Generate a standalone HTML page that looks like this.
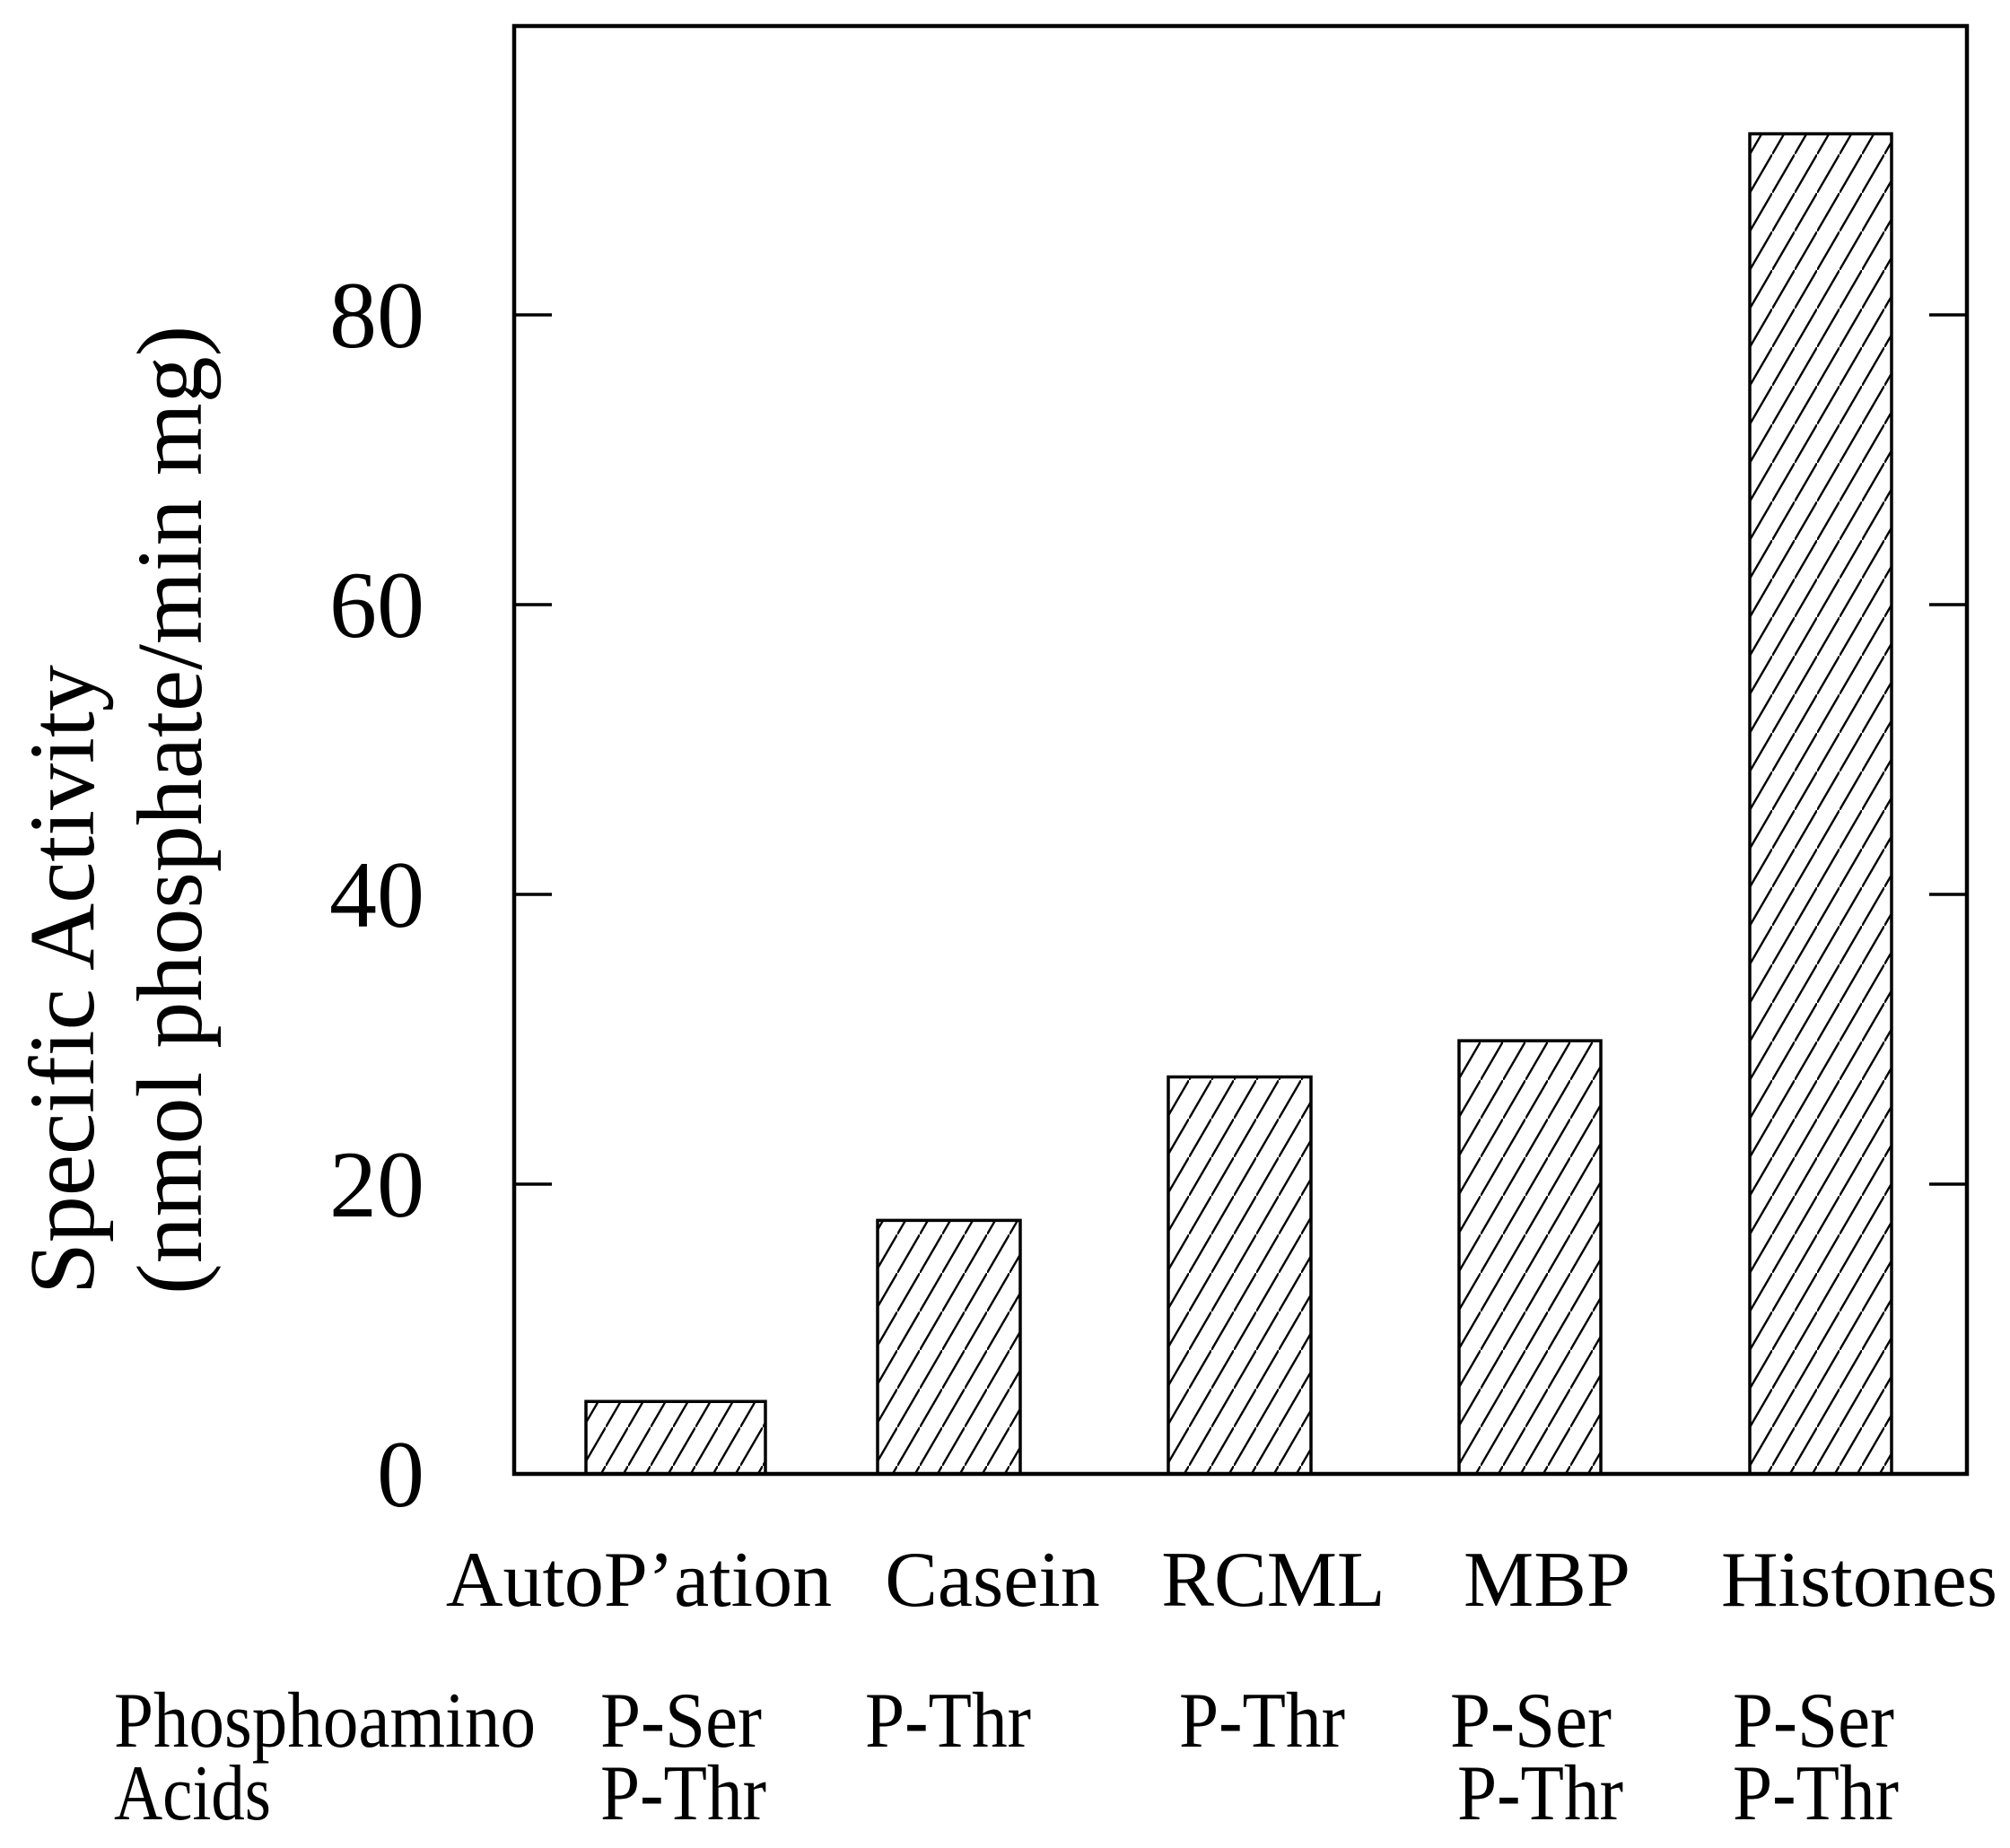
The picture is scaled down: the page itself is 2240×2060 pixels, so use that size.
<!DOCTYPE html>
<html><head><meta charset="utf-8"><style>
html,body{margin:0;padding:0;background:#fff;}
svg{display:block;font-family:"Liberation Serif",serif;}
</style></head><body>
<svg id="chart" width="2240" height="2060" viewBox="0 0 2240 2060">
<defs>
<pattern id="hatch" patternUnits="userSpaceOnUse" width="25" height="43">
<line x1="-10" y1="60.2" x2="35" y2="-17.2" stroke="#000" stroke-width="2.4"/>
</pattern>
</defs>
<g id="plot"></g>
</svg>
<script>
const categories = ["AutoP\u2019ation","Casein","RCML","MBP","Histones"];
const values = [5.0, 17.5, 27.4, 29.9, 92.5];
const barLeft = [653, 978, 1302, 1626, 1950];
const barWidths = [200, 159, 159, 158, 158];
const yTicks = [0, 20, 40, 60, 80];
const aminoLine1 = ["P-Ser","P-Thr","P-Thr","P-Ser","P-Ser"];
const aminoLine2 = ["P-Thr","","","P-Thr","P-Thr"];

const NS = "http://www.w3.org/2000/svg";
const g = document.getElementById('plot');
const X0 = 573, X1 = 2192, Y0 = 1643, YTOP = 29;
const yScale = v => Y0 - v * 16.15;
function mk(tag, attrs, parent){const e=document.createElementNS(NS,tag);for(const k in attrs)e.setAttribute(k,attrs[k]);(parent||g).appendChild(e);return e;}

values.forEach((v,i)=>{
  const r = mk('rect',{x:barLeft[i],y:yScale(v),width:barWidths[i],height:Y0-yScale(v),fill:'url(#hatch)',stroke:'#000','stroke-width':3.5});
  
  
});

const frame = mk('rect',{x:X0,y:YTOP,width:X1-X0,height:Y0-YTOP,fill:'none',stroke:'#000','stroke-width':4.5});



yTicks.forEach(t=>{
  const y = yScale(t);
  if (t>0){
    const l1 = mk('line',{x1:X0,y1:y,x2:X0+42,y2:y,stroke:'#000','stroke-width':3.5});
    
    
    const l2 = mk('line',{x1:X1-42,y1:y,x2:X1,y2:y,stroke:'#000','stroke-width':3.5});
    
    
  }
  const tx = mk('text',{x:473,y:y+36,'text-anchor':'end','font-size':106});
  tx.textContent = t;
  
  
});

const catX = [712, 1106, 1419, 1724, 2072];
categories.forEach((c,i)=>{
  const t = mk('text',{x:catX[i],y:1790,'text-anchor':'middle','font-size':88});
  t.textContent = c;
  
  
});

const aminoX = [669, 964, 1314, 1616, 1931];
const h1 = mk('text',{x:127,y:1947,'font-size':88,textLength:470,lengthAdjust:'spacingAndGlyphs'}); h1.textContent='Phosphoamino';


const h2 = mk('text',{x:127,y:2028,'font-size':88,textLength:175,lengthAdjust:'spacingAndGlyphs'}); h2.textContent='Acids';


aminoLine1.forEach((a,i)=>{
  const t = mk('text',{x:aminoX[i],y:1947,'font-size':88,textLength:a==='P-Ser'?180:185,lengthAdjust:'spacingAndGlyphs'}); t.textContent=a;
  
  
});
aminoLine2.forEach((a,i)=>{
  if(!a) return;
  const t = mk('text',{x:aminoX[i]+(i===3?8:0),y:2028,'font-size':88,textLength:185,lengthAdjust:'spacingAndGlyphs'}); t.textContent=a;
  
  
});

const yt1 = mk('text',{x:0,y:0,'font-size':104,transform:'translate(104,1443) rotate(-90)'});
yt1.textContent = 'Specific Activity';


const yt2 = mk('text',{x:0,y:0,'font-size':104,transform:'translate(224,1443) rotate(-90)'});
yt2.textContent = '(nmol phosphate/min mg)';


</script>
</body></html>
